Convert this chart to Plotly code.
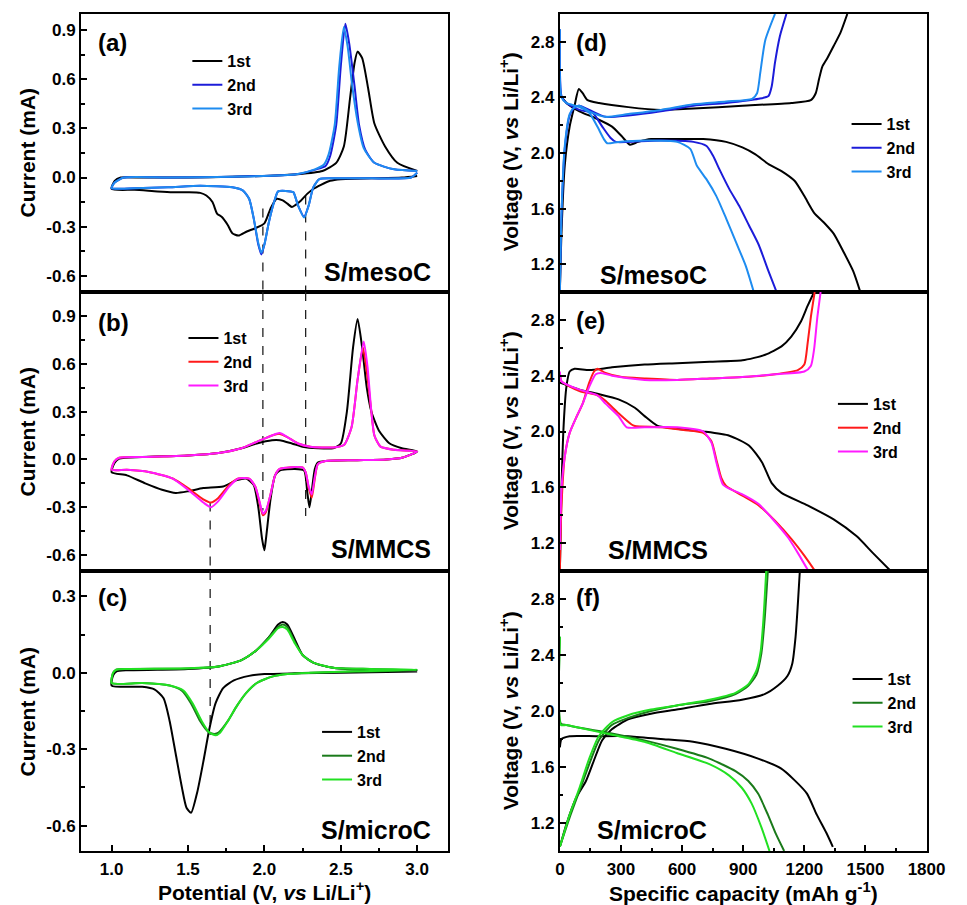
import plotly.graph_objects as go

FONT = "Liberation Sans, Arial, sans-serif"

# ---------------- CV data (Potential V, Current mA) ----------------
# (a) S/mesoC
a1_V = [3.00, 2.90, 2.70, 2.50, 2.43, 2.37, 2.32, 2.28, 2.24, 2.20, 2.18, 2.15, 2.12, 2.08, 2.04, 2.00, 1.94, 1.885, 1.83, 1.79, 1.76, 1.72, 1.69, 1.66, 1.62, 1.58, 1.50, 1.40, 1.30, 1.15, 1.00,
        1.02, 1.06, 1.20, 1.50, 1.79, 2.00, 2.21, 2.38, 2.47, 2.52, 2.56, 2.59, 2.61, 2.64, 2.68, 2.72, 2.79, 2.87, 3.00]
a1_I = [0.01, 0.00, -0.005, -0.01, -0.02, -0.045, -0.07, -0.10, -0.14, -0.17, -0.18, -0.16, -0.14, -0.13, -0.19, -0.28, -0.31, -0.33, -0.355, -0.34, -0.29, -0.24, -0.22, -0.15, -0.11, -0.094, -0.09, -0.09, -0.085, -0.075, -0.07,
        -0.02, 0.0, 0.0, 0.0, 0.005, 0.01, 0.02, 0.04, 0.09, 0.19, 0.48, 0.70, 0.77, 0.73, 0.54, 0.33, 0.19, 0.09, 0.04]
a2_V = [3.00, 2.96, 2.70, 2.45, 2.36, 2.32, 2.29, 2.26, 2.22, 2.19, 2.17, 2.09, 2.07, 2.03, 2.00, 1.98, 1.96, 1.93, 1.90, 1.86, 1.79, 1.58, 1.37, 1.15, 1.00,
        1.02, 1.08, 1.37, 1.79, 2.21, 2.34, 2.40, 2.43, 2.47, 2.50, 2.53, 2.555, 2.59, 2.62, 2.66, 2.72, 2.85, 3.00]
a2_I = [0.03, 0.00, -0.005, -0.005, -0.01, -0.06, -0.17, -0.24, -0.17, -0.09, -0.085, -0.085, -0.13, -0.27, -0.41, -0.47, -0.41, -0.25, -0.13, -0.08, -0.06, -0.05, -0.06, -0.065, -0.065,
        -0.03, 0.0, 0.0, 0.005, 0.02, 0.05, 0.07, 0.13, 0.32, 0.68, 0.94, 0.82, 0.56, 0.32, 0.17, 0.09, 0.05, 0.04]
a3_V = [3.00, 2.96, 2.70, 2.45, 2.36, 2.32, 2.29, 2.26, 2.22, 2.19, 2.17, 2.09, 2.07, 2.03, 2.00, 1.98, 1.96, 1.93, 1.90, 1.86, 1.79, 1.58, 1.37, 1.15, 1.00,
        1.02, 1.08, 1.37, 1.79, 2.21, 2.33, 2.39, 2.42, 2.46, 2.49, 2.52, 2.545, 2.575, 2.61, 2.65, 2.72, 2.85, 3.00]
a3_I = [0.03, 0.00, -0.005, -0.005, -0.01, -0.06, -0.17, -0.245, -0.17, -0.09, -0.085, -0.085, -0.13, -0.27, -0.41, -0.46, -0.40, -0.25, -0.13, -0.08, -0.06, -0.05, -0.06, -0.065, -0.065,
        -0.03, 0.0, 0.0, 0.005, 0.02, 0.05, 0.08, 0.14, 0.32, 0.68, 0.92, 0.80, 0.56, 0.34, 0.18, 0.09, 0.05, 0.04]

# (b) S/MMCS
b1_V = [3.00, 2.90, 2.80, 2.60, 2.40, 2.35, 2.33, 2.31, 2.295, 2.28, 2.26, 2.20, 2.10, 2.07, 2.04, 2.01, 2.00, 1.985, 1.96, 1.93, 1.88, 1.82, 1.73, 1.60, 1.50, 1.42, 1.33, 1.22, 1.10, 1.00,
        1.02, 1.05, 1.20, 1.50, 1.70, 1.85, 1.95, 2.05, 2.10, 2.18, 2.25, 2.35, 2.45, 2.50, 2.54, 2.58, 2.61, 2.64, 2.67, 2.70, 2.75, 2.82, 2.90, 3.00]
b1_I = [0.05, 0.01, 0.00, -0.005, -0.01, -0.02, -0.06, -0.20, -0.30, -0.20, -0.07, -0.06, -0.07, -0.10, -0.25, -0.50, -0.57, -0.50, -0.30, -0.16, -0.12, -0.13, -0.17, -0.18, -0.20, -0.21, -0.19, -0.15, -0.10, -0.08,
        -0.02, 0.005, 0.015, 0.025, 0.04, 0.07, 0.10, 0.12, 0.12, 0.10, 0.08, 0.07, 0.07, 0.10, 0.30, 0.70, 0.88, 0.70, 0.45, 0.30, 0.18, 0.10, 0.07, 0.05]
b2_V = [3.00, 2.90, 2.80, 2.60, 2.40, 2.35, 2.33, 2.31, 2.29, 2.27, 2.25, 2.10, 2.07, 2.04, 2.01, 1.99, 1.97, 1.94, 1.90, 1.83, 1.77, 1.70, 1.65, 1.60, 1.50, 1.40, 1.25, 1.10, 1.00,
        1.02, 1.05, 1.20, 1.50, 1.70, 1.85, 1.95, 2.05, 2.10, 2.15, 2.22, 2.30, 2.45, 2.52, 2.57, 2.61, 2.645, 2.67, 2.70, 2.72, 2.76, 2.85, 3.00]
b2_I = [0.05, 0.01, 0.00, -0.005, -0.01, -0.03, -0.12, -0.24, -0.18, -0.08, -0.05, -0.06, -0.10, -0.22, -0.33, -0.35, -0.28, -0.17, -0.12, -0.12, -0.16, -0.24, -0.27, -0.25, -0.18, -0.12, -0.08, -0.065, -0.065,
        -0.01, 0.01, 0.015, 0.025, 0.04, 0.07, 0.11, 0.15, 0.16, 0.14, 0.10, 0.08, 0.075, 0.09, 0.20, 0.50, 0.70, 0.55, 0.30, 0.15, 0.08, 0.06, 0.05]
b3_V = [3.00, 2.90, 2.80, 2.60, 2.40, 2.35, 2.33, 2.31, 2.29, 2.27, 2.25, 2.10, 2.07, 2.04, 2.01, 1.99, 1.97, 1.94, 1.90, 1.83, 1.77, 1.70, 1.65, 1.60, 1.50, 1.40, 1.25, 1.10, 1.00,
        1.02, 1.05, 1.20, 1.50, 1.70, 1.85, 1.95, 2.05, 2.10, 2.15, 2.22, 2.30, 2.45, 2.52, 2.57, 2.61, 2.65, 2.675, 2.70, 2.72, 2.76, 2.85, 3.00]
b3_I = [0.05, 0.01, 0.00, -0.005, -0.01, -0.03, -0.11, -0.22, -0.17, -0.08, -0.05, -0.06, -0.10, -0.22, -0.32, -0.34, -0.27, -0.17, -0.12, -0.12, -0.17, -0.26, -0.30, -0.27, -0.19, -0.12, -0.08, -0.065, -0.065,
        -0.01, 0.01, 0.015, 0.025, 0.04, 0.07, 0.11, 0.15, 0.165, 0.14, 0.10, 0.08, 0.075, 0.09, 0.20, 0.50, 0.74, 0.58, 0.30, 0.15, 0.08, 0.06, 0.05]

# (c) S/microC
c1_V = [3.00, 2.50, 2.20, 2.00, 1.90, 1.80, 1.73, 1.68, 1.64, 1.60, 1.56, 1.52, 1.49, 1.46, 1.42, 1.38, 1.34, 1.28, 1.20, 1.00,
        1.01, 1.03, 1.10, 1.30, 1.50, 1.70, 1.85, 1.95, 2.03, 2.09, 2.12, 2.15, 2.20, 2.25, 2.32, 2.45, 2.70, 3.00]
c1_I = [0.005, 0.0, -0.002, -0.005, -0.012, -0.03, -0.06, -0.12, -0.22, -0.35, -0.47, -0.55, -0.53, -0.45, -0.32, -0.19, -0.10, -0.065, -0.055, -0.05,
        -0.01, 0.005, 0.01, 0.012, 0.015, 0.025, 0.05, 0.09, 0.14, 0.19, 0.20, 0.19, 0.13, 0.07, 0.04, 0.02, 0.01, 0.01]
c2_V = [3.00, 2.60, 2.30, 2.15, 2.05, 1.95, 1.88, 1.82, 1.76, 1.70, 1.67, 1.63, 1.58, 1.52, 1.46, 1.38, 1.20, 1.00,
        1.01, 1.03, 1.10, 1.50, 1.70, 1.85, 1.95, 2.03, 2.09, 2.12, 2.15, 2.20, 2.25, 2.32, 2.45, 2.70, 3.00]
c2_I = [0.01, 0.005, 0.0, -0.005, -0.015, -0.04, -0.08, -0.13, -0.19, -0.235, -0.24, -0.23, -0.19, -0.12, -0.07, -0.05, -0.04, -0.04,
        0.0, 0.012, 0.015, 0.017, 0.025, 0.05, 0.09, 0.14, 0.18, 0.19, 0.18, 0.12, 0.07, 0.04, 0.02, 0.015, 0.01]
c3_V = [3.00, 2.60, 2.30, 2.15, 2.05, 1.95, 1.88, 1.82, 1.76, 1.71, 1.68, 1.64, 1.59, 1.53, 1.47, 1.38, 1.20, 1.00,
        1.01, 1.03, 1.10, 1.50, 1.70, 1.85, 1.95, 2.03, 2.09, 2.12, 2.15, 2.20, 2.25, 2.32, 2.45, 2.70, 3.00]
c3_I = [0.012, 0.006, 0.0, -0.005, -0.015, -0.04, -0.08, -0.13, -0.19, -0.235, -0.245, -0.235, -0.19, -0.12, -0.07, -0.05, -0.04, -0.04,
        0.0, 0.012, 0.015, 0.018, 0.025, 0.05, 0.09, 0.135, 0.175, 0.18, 0.17, 0.115, 0.07, 0.04, 0.02, 0.015, 0.012]

# ---------------- Charge/discharge data (capacity mAh/g, voltage V) ----------------
# (d) S/mesoC
d1_dis_Q = [0, 32, 96, 176, 256, 304, 344, 384, 448, 576, 704, 816, 896, 960, 1024, 1088, 1152, 1200, 1248, 1296, 1344, 1392, 1440, 1475]
d1_dis_U = [2.42, 2.36, 2.30, 2.25, 2.19, 2.12, 2.06, 2.08, 2.10, 2.10, 2.10, 2.08, 2.04, 1.99, 1.92, 1.87, 1.80, 1.69, 1.57, 1.50, 1.42, 1.29, 1.15, 1.00]
d1_chg_Q = [0, 8, 24, 48, 72, 93, 112, 136, 192, 336, 496, 656, 896, 1136, 1232, 1256, 1272, 1288, 1312, 1344, 1376, 1411]
d1_chg_U = [1.00, 1.43, 1.91, 2.19, 2.34, 2.46, 2.43, 2.38, 2.36, 2.33, 2.31, 2.32, 2.34, 2.36, 2.38, 2.43, 2.53, 2.62, 2.68, 2.77, 2.86, 3.00]
d2_dis_Q = [0, 8, 32, 96, 160, 208, 248, 275, 336, 496, 656, 720, 752, 784, 832, 880, 928, 976, 1024, 1064]
d2_dis_U = [2.89, 2.41, 2.36, 2.31, 2.29, 2.19, 2.11, 2.08, 2.08, 2.09, 2.08, 2.05, 1.98, 1.88, 1.74, 1.62, 1.48, 1.34, 1.15, 1.00]
d2_chg_Q = [0, 8, 24, 48, 72, 96, 144, 224, 336, 496, 656, 816, 976, 1024, 1040, 1056, 1080, 1112]
d2_chg_U = [1.00, 1.55, 2.03, 2.27, 2.33, 2.34, 2.31, 2.26, 2.27, 2.30, 2.34, 2.36, 2.39, 2.41, 2.48, 2.65, 2.84, 3.00]
d3_dis_Q = [0, 8, 32, 96, 144, 184, 216, 232, 288, 416, 576, 640, 672, 720, 768, 816, 864, 912, 952]
d3_dis_U = [2.89, 2.40, 2.36, 2.33, 2.29, 2.19, 2.10, 2.07, 2.08, 2.09, 2.08, 2.03, 1.91, 1.81, 1.69, 1.53, 1.36, 1.19, 1.00]
d3_chg_Q = [0, 8, 24, 48, 72, 96, 144, 224, 336, 496, 656, 816, 944, 968, 984, 1008, 1056]
d3_chg_U = [1.00, 1.57, 2.05, 2.28, 2.33, 2.34, 2.30, 2.26, 2.28, 2.31, 2.35, 2.37, 2.39, 2.43, 2.58, 2.81, 3.00]

# (e) S/MMCS
e1_dis_Q = [0, 96, 184, 288, 368, 416, 480, 576, 704, 832, 928, 992, 1040, 1088, 1216, 1344, 1456, 1536, 1624]
e1_dis_U = [2.35, 2.30, 2.27, 2.23, 2.17, 2.11, 2.04, 2.02, 2.00, 1.97, 1.90, 1.78, 1.63, 1.56, 1.47, 1.37, 1.25, 1.13, 1.00]
e1_chg_Q = [0, 8, 19, 32, 48, 72, 144, 256, 416, 576, 736, 896, 1008, 1088, 1136, 1184, 1216, 1248]
e1_chg_U = [1.00, 1.59, 2.06, 2.32, 2.43, 2.45, 2.44, 2.46, 2.48, 2.49, 2.50, 2.51, 2.55, 2.61, 2.68, 2.79, 2.90, 3.00]
e2_dis_Q = [0, 8, 96, 184, 224, 288, 352, 368, 496, 608, 704, 744, 768, 792, 816, 896, 976, 1056, 1136, 1200, 1248]
e2_dis_U = [2.42, 2.36, 2.29, 2.26, 2.22, 2.13, 2.05, 2.04, 2.03, 2.01, 1.99, 1.93, 1.80, 1.67, 1.61, 1.54, 1.47, 1.36, 1.23, 1.11, 1.01]
e2_chg_Q = [0, 8, 24, 48, 80, 112, 144, 168, 184, 224, 304, 416, 576, 736, 896, 1056, 1168, 1200, 1216, 1232, 1251]
e2_chg_U = [1.01, 1.47, 1.82, 1.99, 2.10, 2.20, 2.35, 2.43, 2.45, 2.42, 2.39, 2.38, 2.37, 2.38, 2.39, 2.41, 2.44, 2.48, 2.63, 2.82, 3.00]
e3_dis_Q = [0, 8, 96, 184, 224, 288, 328, 416, 576, 704, 744, 768, 800, 832, 896, 976, 1040, 1120, 1168, 1216]
e3_dis_U = [2.43, 2.36, 2.30, 2.26, 2.20, 2.11, 2.03, 2.03, 2.03, 2.00, 1.92, 1.78, 1.62, 1.59, 1.55, 1.48, 1.38, 1.24, 1.13, 1.01]
e3_chg_Q = [0, 8, 24, 48, 80, 112, 144, 176, 200, 256, 416, 576, 736, 896, 1056, 1200, 1232, 1248, 1264, 1280]
e3_chg_U = [1.15, 1.59, 1.82, 1.99, 2.10, 2.20, 2.32, 2.41, 2.42, 2.40, 2.37, 2.37, 2.38, 2.39, 2.41, 2.43, 2.47, 2.59, 2.82, 3.00]

# (f) S/microC
f1_dis_Q = [0, 8, 48, 176, 335, 495, 654, 814, 973, 1085, 1149, 1213, 1261, 1308, 1340]
f1_dis_U = [1.74, 1.80, 1.82, 1.82, 1.82, 1.80, 1.78, 1.73, 1.66, 1.59, 1.51, 1.41, 1.26, 1.13, 1.03]
f1_chg_Q = [0, 32, 80, 128, 168, 207, 255, 335, 447, 574, 734, 894, 1005, 1069, 1117, 1141, 1157, 1168, 1178]
f1_chg_U = [1.03, 1.19, 1.38, 1.50, 1.65, 1.79, 1.87, 1.94, 1.98, 2.01, 2.05, 2.08, 2.12, 2.18, 2.25, 2.34, 2.53, 2.76, 3.00]
f2_dis_Q = [0, 5, 32, 96, 255, 415, 574, 734, 862, 925, 973, 1021, 1061, 1101]
f2_dis_U = [2.53, 1.91, 1.90, 1.88, 1.84, 1.79, 1.73, 1.66, 1.57, 1.50, 1.41, 1.26, 1.12, 1.00]
f2_chg_Q = [0, 48, 96, 144, 191, 255, 335, 447, 574, 734, 862, 925, 965, 989, 1005, 1021]
f2_chg_U = [1.03, 1.24, 1.43, 1.62, 1.79, 1.90, 1.95, 2.00, 2.04, 2.07, 2.12, 2.18, 2.26, 2.41, 2.65, 3.00]
f3_dis_Q = [0, 5, 32, 96, 255, 415, 574, 734, 830, 894, 941, 989, 1029]
f3_dis_U = [2.53, 1.90, 1.90, 1.88, 1.83, 1.78, 1.70, 1.62, 1.54, 1.45, 1.34, 1.17, 1.00]
f3_chg_Q = [0, 48, 96, 144, 191, 255, 335, 447, 574, 734, 862, 925, 965, 986, 999, 1013]
f3_chg_U = [1.03, 1.26, 1.45, 1.66, 1.82, 1.92, 1.97, 2.01, 2.04, 2.08, 2.13, 2.19, 2.29, 2.43, 2.65, 3.00]

# dashed guide lines: (panel, potential, y_start, y_end)
guide_lines = [("a", 1.99, -0.19, -0.70), ("a", 2.27, -0.11, -0.70),
               ("b", 1.99, 1.05, -0.32), ("b", 2.27, 1.05, -0.355), ("b", 1.645, -0.27, -0.70),
               ("c", 1.645, 0.40, -0.244)]

legend_names = ["1st", "2nd", "3rd"]
cv_colors = {"a": ["#000000", "#1c1cd9", "#1e8cf0"],
             "b": ["#000000", "#ff1a1a", "#ff1aff"],
             "c": ["#000000", "#1a7a1a", "#22e022"]}

LEFT_DOM = [78 / 967, 454 / 967]
RIGHT_DOM = [569 / 967, 945 / 967]
ROW_DOM = [[1 - 292 / 905, 1 - 14 / 905], [1 - 571 / 905, 1 - 292 / 905], [1 - 851 / 905, 1 - 571 / 905]]

fig = go.Figure()

axis_ids = {"a": ("x", "y"), "b": ("x2", "y2"), "c": ("x3", "y3"),
            "d": ("x4", "y4"), "e": ("x5", "y5"), "f": ("x6", "y6")}
legend_ids = {"a": "legend", "b": "legend2", "c": "legend3", "d": "legend4", "e": "legend5", "f": "legend6"}

cv_data = {"a": [(a1_V, a1_I), (a2_V, a2_I), (a3_V, a3_I)],
           "b": [(b1_V, b1_I), (b2_V, b2_I), (b3_V, b3_I)],
           "c": [(c1_V, c1_I), (c2_V, c2_I), (c3_V, c3_I)]}
for p, series in cv_data.items():
    xa, ya = axis_ids[p]
    for k, (vx, iy) in enumerate(series):
        fig.add_trace(go.Scatter(x=vx, y=iy, mode="lines", name=legend_names[k], xaxis=xa, yaxis=ya,
                                 legend=legend_ids[p],
                                 line=dict(color=cv_colors[p][k], width=2, shape="spline", smoothing=0.6)))

gcd_data = {"d": [(d1_dis_Q, d1_dis_U, d1_chg_Q, d1_chg_U), (d2_dis_Q, d2_dis_U, d2_chg_Q, d2_chg_U), (d3_dis_Q, d3_dis_U, d3_chg_Q, d3_chg_U)],
            "e": [(e1_dis_Q, e1_dis_U, e1_chg_Q, e1_chg_U), (e2_dis_Q, e2_dis_U, e2_chg_Q, e2_chg_U), (e3_dis_Q, e3_dis_U, e3_chg_Q, e3_chg_U)],
            "f": [(f1_dis_Q, f1_dis_U, f1_chg_Q, f1_chg_U), (f2_dis_Q, f2_dis_U, f2_chg_Q, f2_chg_U), (f3_dis_Q, f3_dis_U, f3_chg_Q, f3_chg_U)]}
gcd_colors = {"d": cv_colors["a"], "e": cv_colors["b"], "f": cv_colors["c"]}
for p, series in gcd_data.items():
    xa, ya = axis_ids[p]
    for k, (q1, u1, q2, u2) in enumerate(series):
        fig.add_trace(go.Scatter(x=list(q1) + [None] + list(q2), y=list(u1) + [None] + list(u2),
                                 mode="lines", name=legend_names[k], xaxis=xa, yaxis=ya,
                                 legend=legend_ids[p], connectgaps=False,
                                 line=dict(color=gcd_colors[p][k], width=2, shape="spline", smoothing=0.6)))

for p, v, y0, y1 in guide_lines:
    xa, ya = axis_ids[p]
    fig.add_shape(type="line", xref=xa, yref=ya, x0=v, x1=v, y0=y0, y1=y1, layer="below",
                  line=dict(color="#222222", width=1.3, dash="dash"))

tickfont = dict(family=FONT, size=17, color="black", weight="bold")

cv_x_vals = [1.0, 1.5, 2.0, 2.5, 3.0]
cv_x_text = ["1.0", "1.5", "2.0", "2.5", "3.0"]
cv_y_vals = [-0.6, -0.3, 0.0, 0.3, 0.6, 0.9]
cv_y_text = ["-0.6", "-0.3", "0.0", "0.3", "0.6", "0.9"]
cap_x_vals = [0, 300, 600, 900, 1200, 1500, 1800]
cap_x_text = ["0", "300", "600", "900", "1200", "1500", "1800"]
volt_y_vals = [1.2, 1.6, 2.0, 2.4, 2.8]
volt_y_text = ["1.2", "1.6", "2.0", "2.4", "2.8"]

cv_y_ranges = {"a": [-0.7, 1.0], "b": [-0.7, 1.05], "c": [-0.7, 0.4]}


def base_axis(domain, anchor):
    return dict(domain=domain, anchor=anchor, showline=True, linewidth=2, linecolor="black", mirror=True,
                showgrid=False, zeroline=False, tickfont=tickfont, ticks="inside", ticklen=6, tickwidth=1.5,
                tickcolor="black")


def minor_ticks(step):
    return dict(ticks="inside", dtick=step, tick0=0, ticklen=3.5, tickwidth=1.5, tickcolor="black")


layout_axes = {}
for i, p in enumerate(["a", "b", "c"]):
    xa, ya = axis_ids[p]
    xk = "xaxis" + xa[1:]
    yk = "yaxis" + ya[1:]
    bottom = p == "c"
    ax = base_axis(LEFT_DOM, ya)
    ax.update(range=[0.8, 3.2], tickvals=cv_x_vals, ticktext=cv_x_text, showticklabels=bottom,
              ticks="inside" if bottom else "", minor=minor_ticks(0.25) if bottom else dict(ticks=""),
              ticklabelstandoff=2)
    layout_axes[xk] = ax
    ay = base_axis(ROW_DOM[i], xa)
    ay.update(range=cv_y_ranges[p], tickvals=cv_y_vals, ticktext=cv_y_text, minor=minor_ticks(0.15))
    layout_axes[yk] = ay
for i, p in enumerate(["d", "e", "f"]):
    xa, ya = axis_ids[p]
    xk = "xaxis" + xa[1:]
    yk = "yaxis" + ya[1:]
    bottom = p == "f"
    ax = base_axis(RIGHT_DOM, ya)
    ax.update(range=[0, 1800], tickvals=cap_x_vals, ticktext=cap_x_text, showticklabels=bottom,
              ticks="inside" if bottom else "", minor=minor_ticks(150) if bottom else dict(ticks=""),
              ticklabelstandoff=2)
    layout_axes[xk] = ax
    ay = base_axis(ROW_DOM[i], xa)
    ay.update(range=[1.0, 3.0], tickvals=volt_y_vals, ticktext=volt_y_text, minor=minor_ticks(0.2))
    layout_axes[yk] = ay

legend_font = dict(family=FONT, size=16, color="black", weight="bold")
# legend anchor positions in pixels (left, top)
legend_px = {"a": (187, 44), "b": (183, 321), "c": (320, 715), "d": (863, 107), "e": (849, 387), "f": (864, 662)}
legends = {}
for p, (lx, ly) in legend_px.items():
    legends[legend_ids[p]] = dict(x=lx / 967, y=1 - ly / 905, xanchor="left", yanchor="top", font=legend_font,
                                  bgcolor="rgba(0,0,0,0)", tracegroupgap=0, itemwidth=30, traceorder="normal")

annotations = []
panel_labels = {"a": (93, 43), "b": (93, 322), "c": (93, 597), "d": (583, 42), "e": (583, 320), "f": (583, 597)}
for p, (px, py) in panel_labels.items():
    annotations.append(dict(text="<b>(%s)</b>" % p, x=px / 967, y=1 - py / 905, xref="paper", yref="paper",
                            xanchor="left", yanchor="middle", showarrow=False,
                            font=dict(family=FONT, size=24, color="black")))
sample_names = [("S/mesoC", 439, 272, "right"), ("S/MMCS", 439, 549, "right"), ("S/microC", 439, 830, "right"),
                ("S/mesoC", 608, 275, "left"), ("S/MMCS", 616, 550, "left"), ("S/microC", 605, 830, "left")]
for t, px, py, anc in sample_names:
    annotations.append(dict(text="<b>%s</b>" % t, x=px / 967, y=1 - py / 905, xref="paper", yref="paper",
                            xanchor=anc, yanchor="middle", showarrow=False,
                            font=dict(family=FONT, size=25, color="black")))
title_font = dict(family=FONT, size=21, color="black")
for py in [152, 431, 711]:
    annotations.append(dict(text="<b>Current (mA)</b>", x=23 / 967, y=1 - py / 905, xref="paper", yref="paper",
                            textangle=-90, xanchor="center", yanchor="middle", showarrow=False, font=title_font))
    annotations.append(dict(text="<b>Voltage (V, <i>vs</i> Li/Li<sup>+</sup>)</b>", x=517 / 967, y=1 - py / 905,
                            xref="paper", yref="paper", textangle=-90, xanchor="center", yanchor="middle",
                            showarrow=False, font=title_font))
annotations.append(dict(text="<b>Potential (V, <i>vs</i> Li/Li<sup>+</sup>)</b>", x=266 / 967, y=1 - 891 / 905,
                        xref="paper", yref="paper", xanchor="center", yanchor="middle", showarrow=False, font=title_font))
annotations.append(dict(text="<b>Specific capacity (mAh g<sup>-1</sup>)</b>", x=757 / 967, y=1 - 892 / 905,
                        xref="paper", yref="paper", xanchor="center", yanchor="middle", showarrow=False, font=title_font))

fig.update_layout(width=967, height=905, margin=dict(l=0, r=0, t=0, b=0), paper_bgcolor="white",
                  plot_bgcolor="white", annotations=annotations, font=dict(family=FONT, color="black"),
                  **layout_axes, **legends)
fig.write_html("out.html")
